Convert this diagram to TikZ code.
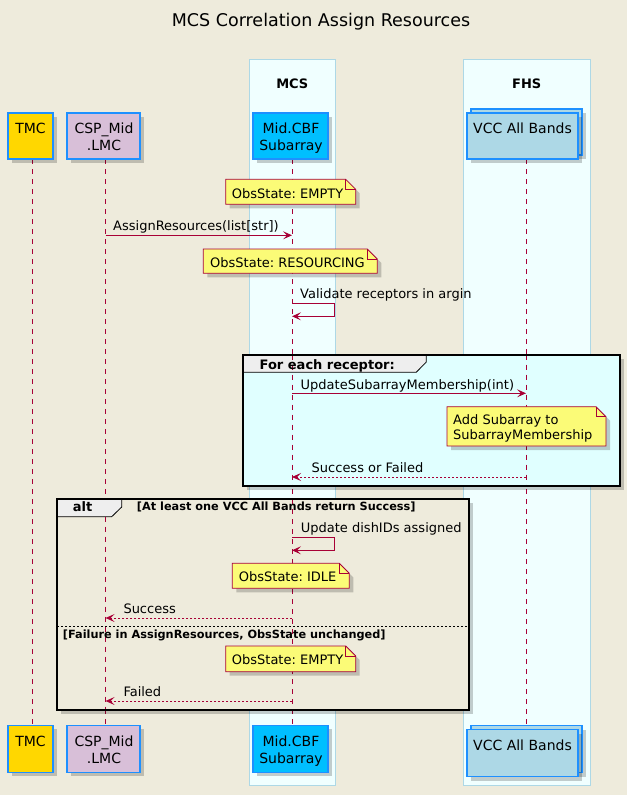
\documentclass[tikz,border=0pt]{standalone}
\usepackage{fontspec}
\setmainfont{DejaVu Sans}
\frenchspacing
\usetikzlibrary{arrows.meta,shadows}
\definecolor{bgc}{HTML}{EEEBDC}
\definecolor{crim}{HTML}{A80036}
\definecolor{notefill}{HTML}{FBFB77}
\definecolor{partborder}{HTML}{1E90FF}
\definecolor{boxfill}{HTML}{F0FFFF}
\definecolor{boxborder}{HTML}{ADD8E6}
\definecolor{loopfill}{HTML}{E0FFFF}
\definecolor{tmcfill}{HTML}{FFD700}
\definecolor{cspfill}{HTML}{D8BFD8}
\definecolor{cbffill}{HTML}{00BFFF}
\definecolor{vccfill}{HTML}{ADD8E6}
\definecolor{tabfill}{HTML}{EEEEEE}
\tikzset{
  shad/.style={drop shadow={shadow xshift=4pt,shadow yshift=-4pt,fill=black,opacity=0.2}},
  partbox/.style={draw=partborder,line width=1.2pt,shad},
  umlbox/.style={draw=boxborder,fill=boxfill,line width=0.8pt},
  lifeline/.style={draw=crim,line width=0.9pt,dash pattern=on 5pt off 5pt},
  msg/.style={draw=crim,line width=0.9pt,-{Stealth[length=9pt,width=8pt,inset=4pt]}},
  ret/.style={draw=crim,line width=0.9pt,dash pattern=on 2pt off 2pt,-{Stealth[length=9pt,width=8pt,inset=4pt]}},
  notebox/.style={draw=crim,fill=notefill,line width=0.8pt,shad},
  foldline/.style={draw=crim,line width=0.8pt},
  frame/.style={draw=black,line width=2pt},
  tabshape/.style={draw=black,fill=tabfill,line width=0.8pt},
  ptxt/.style={font=\fontsize{14}{17}\selectfont,anchor=base,inner sep=0pt},
  mtxt/.style={font=\fontsize{13}{15}\selectfont,anchor=base west,inner sep=0pt},
  btxt/.style={font=\fontsize{13}{15}\selectfont\bfseries,anchor=base west,inner sep=0pt},
  gtxt/.style={font=\fontsize{11.3}{13}\selectfont\bfseries,anchor=base west,inner sep=0pt},
}
\begin{document}
\begin{tikzpicture}[x=1pt,y=-1pt]
\useasboundingbox (0,0) rectangle (627,795);
\fill[bgc] (0,0) rectangle (627,795);
% title
\node[font=\fontsize{17.5}{20}\selectfont,anchor=base,inner sep=0pt] (title) at (321,26) {MCS Correlation Assign Resources};
% boxes
\draw[umlbox] (249.5,59.5) rectangle (335,785);
\draw[umlbox] (463.5,59.5) rectangle (590,785);
\node[btxt,anchor=base] (mcslbl) at (292.3,88) {MCS};
\node[btxt,anchor=base] (fhslbl) at (526.7,88) {FHS};
% lifelines
\draw[lifeline] (32.4,159) -- (32.4,725);
\draw[lifeline] (105.6,159) -- (105.6,725);
\draw[lifeline] (292,159) -- (292,725);
\draw[lifeline] (526,159) -- (526,725);
% note EMPTY 1
\draw[notebox] (225.7,179.3) -- (345.7,179.3) -- (355.7,189.3) -- (355.7,204.3) -- (225.7,204.3) -- cycle;
\draw[foldline] (345.7,179.3) -- (345.7,189.3) -- (355.7,189.3);
\node[mtxt] (n1) at (231.7,198) {ObsState: EMPTY};
% AssignResources
\coordinate (a1s) at (105.6,235.3);
\coordinate (a1e) at (292,235.3);
\draw[msg] (a1s) -- (a1e);
\node[mtxt] (a1t) at (113,230) {AssignResources(list[str])};
% note RESOURCING
\draw[notebox] (203.3,249) -- (367.3,249) -- (377.3,259) -- (377.3,273.3) -- (203.3,273.3) -- cycle;
\draw[foldline] (367.3,249) -- (367.3,259) -- (377.3,259);
\node[mtxt] (n2) at (210,267.5) {ObsState: RESOURCING};
% Validate self message
\coordinate (v1) at (292,303.3);
\coordinate (v2) at (334.3,303.3);
\coordinate (v3) at (334.3,316.3);
\coordinate (v4) at (292,316.3);
\draw[msg] (v1) -- (v2) -- (v3) -- (v4);
\node[mtxt] (vt) at (300,298.3) {Validate receptors in argin};
% loop group
\fill[loopfill,shad] (243.4,354.7) rectangle (620,485.7);
\draw[tabshape] (243.4,354.7) -- (426.3,354.7) -- (426.3,362) -- (416.2,372.3) -- (243.4,372.3) -- cycle;
\draw[lifeline] (292,354.7) -- (292,485.7);
\draw[lifeline] (526,354.7) -- (526,485.7);
\draw[frame] (243.4,354.7) rectangle (620,485.7);
\node[btxt] (looplbl) at (259.5,369) {For each receptor:};
\coordinate (u1s) at (292,393.3);
\coordinate (u1e) at (526,393.3);
\draw[msg] (u1s) -- (u1e);
\node[mtxt] (u1t) at (300.5,389) {UpdateSubarrayMembership(int)};
% note Add Subarray
\draw[notebox] (447,406.7) -- (596,406.7) -- (606,416.7) -- (606,446) -- (447,446) -- cycle;
\draw[foldline] (596,406.7) -- (596,416.7) -- (606,416.7);
\node[mtxt] (n3a) at (453,424.5) {Add Subarray to};
\node[mtxt] (n3b) at (453,439.5) {SubarrayMembership};
\coordinate (r1s) at (526,477);
\coordinate (r1e) at (292,477);
\draw[ret] (r1s) -- (r1e);
\node[mtxt] (r1t) at (311.5,472.3) {Success or Failed};
% alt group
\fill[bgc,shad] (57.3,499) rectangle (469.3,710);
\draw[tabshape] (57.3,499) -- (121.7,499) -- (121.7,507) -- (111.7,516.7) -- (57.3,516.7) -- cycle;
\draw[lifeline] (105.6,516.7) -- (105.6,710);
\draw[lifeline] (292,499) -- (292,710);
\draw[frame] (57.3,499) rectangle (469.3,710);
\node[btxt] (altlbl) at (72.7,511.7) {alt};
\node[gtxt] (g1) at (136.7,510.5) {[At least one VCC All Bands return Success]};
\coordinate (d1) at (292,537.3);
\coordinate (d2) at (334.3,537.3);
\coordinate (d3) at (334.3,550.3);
\coordinate (d4) at (292,550.3);
\draw[msg] (d1) -- (d2) -- (d3) -- (d4);
\node[mtxt] (dt) at (300.7,532.3) {Update dishIDs assigned};
% note IDLE
\draw[notebox] (232.3,563.3) -- (339.3,563.3) -- (349.3,573.3) -- (349.3,588.3) -- (232.3,588.3) -- cycle;
\draw[foldline] (339.3,563.3) -- (339.3,573.3) -- (349.3,573.3);
\node[mtxt] (n4) at (238.7,581.5) {ObsState: IDLE};
\coordinate (s1s) at (292,618);
\coordinate (s1e) at (105.6,618);
\draw[ret] (s1s) -- (s1e);
\node[mtxt] (s1t) at (123.3,613.7) {Success};
\draw[black,line width=0.8pt,dash pattern=on 2pt off 2pt] (57.3,626.7) -- (469.3,626.7);
\node[gtxt] (g2) at (62.7,638) {[Failure in AssignResources, ObsState unchanged]};
% note EMPTY 2
\draw[notebox] (225.7,646) -- (345.7,646) -- (355.7,656) -- (355.7,671.7) -- (225.7,671.7) -- cycle;
\draw[foldline] (345.7,646) -- (345.7,656) -- (355.7,656);
\node[mtxt] (n5) at (231.7,664.5) {ObsState: EMPTY};
\coordinate (f1s) at (292,701);
\coordinate (f1e) at (105.6,701);
\draw[ret] (f1s) -- (f1e);
\node[mtxt] (f1t) at (123.3,696.3) {Failed};
% top participants
\node[partbox,fill=tmcfill,minimum width=45pt,minimum height=46pt,inner sep=0pt] (tmcT) at (30.5,136) {};
\node[ptxt] (tmcTt) at (30.5,133) {TMC};
\node[partbox,fill=cspfill,minimum width=73pt,minimum height=46pt,inner sep=0pt] (cspT) at (103.5,136) {};
\node[ptxt] (cspTt1) at (104,133) {CSP\_Mid};
\node[ptxt] (cspTt2) at (104,150) {.LMC};
\node[partbox,fill=cbffill,minimum width=75pt,minimum height=46pt,inner sep=0pt] (cbfT) at (290.5,136) {};
\node[ptxt] (cbfTt1) at (291,133) {Mid.CBF};
\node[ptxt] (cbfTt2) at (291,150) {Subarray};
\node[partbox,fill=vccfill,minimum width=111pt,minimum height=46pt,inner sep=0pt] (vccTb) at (526.5,132) {};
\node[partbox,fill=vccfill,minimum width=111pt,minimum height=46pt,inner sep=0pt] (vccT) at (522.5,136) {};
\node[ptxt] (vccTt) at (522.5,133) {VCC All Bands};
% bottom participants
\node[partbox,fill=tmcfill,minimum width=45pt,minimum height=47pt,inner sep=0pt] (tmcB) at (30.5,748.7) {};
\node[ptxt] (tmcBt) at (30.5,746.7) {TMC};
\node[partbox,fill=cspfill,minimum width=73pt,minimum height=47pt,inner sep=0pt] (cspB) at (103.5,748.7) {};
\node[ptxt] (cspBt1) at (104,746.7) {CSP\_Mid};
\node[ptxt] (cspBt2) at (104,763.3) {.LMC};
\node[partbox,fill=cbffill,minimum width=75pt,minimum height=47pt,inner sep=0pt] (cbfB) at (290.5,748.7) {};
\node[ptxt] (cbfBt1) at (291,746.7) {Mid.CBF};
\node[ptxt] (cbfBt2) at (291,763.3) {Subarray};
\node[partbox,fill=vccfill,minimum width=111pt,minimum height=47pt,inner sep=0pt] (vccBb) at (526.5,749) {};
\node[partbox,fill=vccfill,minimum width=111pt,minimum height=47pt,inner sep=0pt] (vccB) at (522.5,753) {};
\node[ptxt] (vccBt) at (522.5,750) {VCC All Bands};
\end{tikzpicture}
\end{document}
